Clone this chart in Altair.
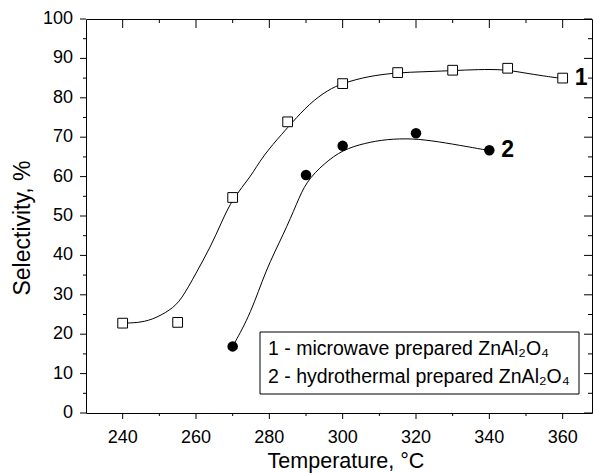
import altair as alt
import pandas as pd

# measured points
t1 = [240, 255, 270, 285, 300, 315, 330, 345, 360]
s1 = [22.8, 23.0, 54.7, 73.9, 83.6, 86.4, 87.0, 87.5, 85.0]
t2 = [270, 290, 300, 320, 340]
s2 = [16.9, 60.4, 67.8, 71.0, 66.7]

# fitted curves
c1_t = [240, 244, 248, 253, 256, 260, 264, 267, 270, 275, 278, 284, 286, 291, 296, 300,
        307, 315, 322, 330, 337, 344, 349, 355, 360]
c1_s = [22.8, 22.9, 23.6, 26.1, 28.7, 35.5, 42.2, 48.5, 54.5, 60.0, 65.0, 71.4, 73.5, 78.6,
        82.0, 83.7, 85.5, 86.4, 86.6, 86.9, 87.2, 87.2, 86.4, 85.5, 84.9]
c2_t = [270, 275, 279, 284, 287.5, 290, 295, 300, 306, 312, 319, 326, 334, 340]
c2_s = [16.9, 25.3, 36.3, 45.6, 53.2, 58.7, 63.4, 66.8, 68.5, 69.5, 69.7, 68.9, 67.6, 66.6]

series_labels = ["1", "2"]
legend_lines = ["1 - microwave prepared ZnAl\u2082O\u2084", "2 - hydrothermal prepared ZnAl\u2082O\u2084"]
x_title = "Temperature, \u00b0C"
y_title = "Selectivity, %"

x_major = [240, 260, 280, 300, 320, 340, 360]
x_minor = [250, 270, 290, 310, 330, 350]
y_major = [0, 10, 20, 30, 40, 50, 60, 70, 80, 90, 100]
y_minor = [5, 15, 25, 35, 45, 55, 65, 75, 85, 95]

FONT = "Liberation Sans"
W, H = 506, 394
XMIN, XMAX, YMIN, YMAX = 230, 368, 0, 100
XPX = W / (XMAX - XMIN)   # pixels per data unit
YPX = H / (YMAX - YMIN)

pts1 = pd.DataFrame({"T": t1, "S": s1})
pts2 = pd.DataFrame({"T": t2, "S": s2})
cur1 = pd.DataFrame({"T": c1_t, "S": c1_s})
cur2 = pd.DataFrame({"T": c2_t, "S": c2_s})
labs = pd.DataFrame({"T": [t1[-1], t2[-1]], "S": [s1[-1], s2[-1]], "lab": series_labels})
one = pd.DataFrame({"a": [0]})
xmaj = pd.DataFrame({"T": x_major})
ymaj = pd.DataFrame({"S": y_major})

# tick segments built from the tick value lists (two rows per tick)
rows = []
k = 0
for vals, out_len, in_len in [(x_major, 6, 9), (x_minor, 3, 4)]:
    for v in vals:
        rows += [(v, YMIN, k), (v, YMIN - out_len / YPX, k)]
        k += 1
        rows += [(v, YMAX, k), (v, YMAX - in_len / YPX, k)]
        k += 1
for vals, out_len, in_len in [(y_major, 6, 8), (y_minor, 3, 4)]:
    for v in vals:
        rows += [(XMIN, v, k), (XMIN - out_len / XPX, v, k)]
        k += 1
        rows += [(XMAX, v, k), (XMAX - in_len / XPX, v, k)]
        k += 1
tick_df = pd.DataFrame(rows, columns=["T", "S", "id"])

xs = alt.Scale(domain=[XMIN, XMAX], nice=False, zero=False)
ys = alt.Scale(domain=[YMIN, YMAX], nice=False, zero=False)

X = alt.X("T:Q", scale=xs, axis=None)
Y = alt.Y("S:Q", scale=ys, axis=None)

line1 = alt.Chart(cur1).mark_line(color="black", strokeWidth=1, interpolate="basis").encode(x=X, y=Y)
line2 = alt.Chart(cur2).mark_line(color="black", strokeWidth=1, interpolate="basis").encode(x=X, y=Y)
p1 = alt.Chart(pts1).mark_point(shape="square", filled=True, fill="white", stroke="black",
                                strokeWidth=1, size=95, opacity=1).encode(x=X, y=Y)
p2 = alt.Chart(pts2).mark_point(shape="circle", filled=True, color="black", size=110,
                                opacity=1).encode(x=X, y=Y)
lab = alt.Chart(labs).mark_text(align="left", baseline="middle", dx=12, fontSize=23,
                                fontWeight="bold", font=FONT, color="black").encode(
    x=X, y=Y, text="lab:N")

ticks = alt.Chart(tick_df).mark_line(color="black", strokeWidth=1, clip=False).encode(
    x=X, y=Y, detail="id:N", order="S:Q")

# tick labels and axis titles
xlab = alt.Chart(xmaj).mark_text(align="center", baseline="alphabetic", fontSize=18,
                                 font=FONT, color="black").encode(
    x=X, y=alt.value(H + 30), text=alt.Text("T:Q", format="d"))
ylab = alt.Chart(ymaj).mark_text(align="right", baseline="middle", fontSize=18,
                                 font=FONT, color="black").encode(
    y=Y, x=alt.value(-13), text=alt.Text("S:Q", format="d"))
xtitle = alt.Chart(one).mark_text(align="center", baseline="alphabetic", fontSize=21.5,
                                  font=FONT, color="black").encode(
    x=alt.value(260), y=alt.value(H + 55), text=alt.value(x_title))
ytitle = alt.Chart(one).mark_text(align="center", baseline="middle", fontSize=23, angle=270,
                                  font=FONT, color="black").encode(
    x=alt.value(-63), y=alt.value(209), text=alt.value(y_title))

box = alt.Chart(one).mark_rect(fill="white", stroke="black", strokeWidth=1).encode(
    x=alt.value(174), x2=alt.value(493), y=alt.value(313), y2=alt.value(375)
)
leg1 = alt.Chart(one).mark_text(align="left", baseline="alphabetic", fontSize=19.5, font=FONT,
                                color="black").encode(
    x=alt.value(182), y=alt.value(336), text=alt.value(legend_lines[0])
)
leg2 = alt.Chart(one).mark_text(align="left", baseline="alphabetic", fontSize=19.5, font=FONT,
                                color="black").encode(
    x=alt.value(182), y=alt.value(364), text=alt.value(legend_lines[1])
)

chart = alt.layer(line1, line2, p1, p2, lab, xlab, ylab, xtitle, ytitle,
                  box, leg1, leg2, ticks).properties(
    width=W, height=H,
    autosize=alt.AutoSizeParams(type="none"),
    padding={"left": 86, "top": 19, "right": 1, "bottom": 60},
    background="white",
).configure_view(stroke="black", strokeWidth=1)

chart.save("out.html", embed_options={"renderer": "svg", "actions": False})
